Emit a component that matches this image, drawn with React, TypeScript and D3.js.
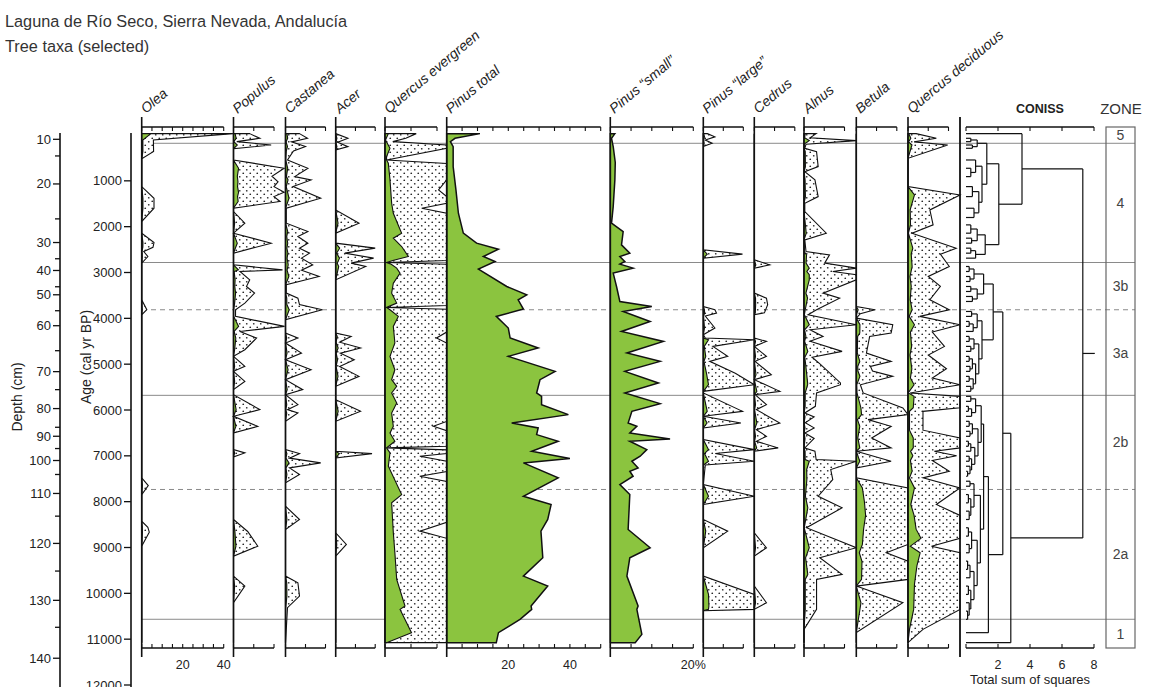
import React from 'react';
import * as d3 from 'd3';

type Pt = [number, number];

// ---------- data (age cal yr BP, percentage) ----------
const ageTicks = [1000, 2000, 3000, 4000, 5000, 6000, 7000, 8000, 9000, 10000, 11000, 12000];
const depthTickValues = [10, 15, 20, 25, 30, 35, 40, 45, 50, 55, 60, 65, 70, 75, 80, 85, 90, 95, 100, 105, 110, 115, 120, 125, 130, 135, 140];
const depthTickAges = [94, 457, 1068, 1830, 2346, 2700, 2956, 3311, 3486, 3834, 4161, 4706, 5163, 5556, 5969, 6377, 6573, 6841, 7102, 7407, 7821, 8316, 8911, 9514, 10153, 10741, 11416];

const zoneSolidAges = [181, 2782, 5680, 10566];
const zoneDashedAges = [3813, 7734];
const zoneNames = ['5', '4', '3b', '3a', '2b', '2a', '1'];

const olea: Pt[] = [[-30, 4.45], [109, 0.57], [360, 0.58], [520, 0], [1126, 0], [1380, 0.6], [1598, 0.6], [1889, 0], [2142, 0], [2346, 0.6], [2450, 0.55], [2543, 0.1], [2651, 0.3], [2796, 0], [3595, 0], [3813, 0.25], [3922, 0], [7481, 0], [7648, 0.32], [7845, 0], [8426, 0], [8560, 0.3], [8665, 0.37], [8971, 0], [11076, 0]];

const populus: Pt[] = [[-30, 0.4], [72, 0.65], [145, 0.08], [218, 0.93], [300, 0], [545, 0], [726, 1.25], [900, 0.95], [1020, 1.1], [1126, 1.0], [1250, 1.25], [1344, 1.0], [1450, 1.15], [1598, 0], [1671, 0], [1924, 0.28], [2142, 0], [2360, 0.93], [2578, 0], [2833, 0], [2942, 1.21], [2978, 0.16], [3160, 0.4], [3305, 0.32], [3450, 0.52], [3668, 0.28], [3813, 0.05], [3958, 0.05], [4176, 1.26], [4286, 0.16], [4430, 0.57], [4685, 0.28], [4830, 0], [5048, 0.28], [5157, 0], [5375, 0.28], [5556, 0], [5665, 0], [5992, 0.65], [6138, 0], [6356, 0.6], [6500, 0], [6864, 0], [6936, 0.28], [7023, 0], [8389, 0], [8650, 0.35], [8971, 0.6], [9189, 0], [9624, 0], [9842, 0.28], [10205, 0], [11076, 0]];

const castanea: Pt[] = [[-30, 0.35], [72, 0.55], [150, 0.15], [250, 0.5], [350, 0.2], [545, 0.05], [726, 0.56], [908, 0.23], [980, 0.64], [1126, 0.19], [1380, 0.88], [1598, 0.02], [1924, 0.02], [2106, 0.56], [2215, 0.31], [2360, 0.56], [2469, 0.35], [2578, 0.6], [2687, 0.4], [2833, 0.68], [2950, 0.4], [3087, 0.84], [3268, 0.02], [3450, 0.02], [3559, 0.31], [3700, 0.35], [3813, 0.92], [4031, 0], [4322, 0], [4430, 0.31], [4539, 0], [4757, 0.4], [4903, 0], [5121, 0.64], [5339, 0], [5556, 0.43], [5665, 0], [5883, 0.31], [5992, 0.05], [6065, 0.31], [6247, 0], [6864, 0], [6951, 0.35], [7050, 0.1], [7154, 0.88], [7263, 0.1], [7409, 0.35], [7590, 0], [8099, 0], [8389, 0.35], [8607, 0], [9624, 0], [9769, 0.31], [10060, 0.35], [10314, 0.05], [11076, 0]];

const acer: Pt[] = [[-30, 0], [72, 0.31], [160, 0.05], [254, 0.31], [327, 0], [1634, 0], [1924, 0.59], [2142, 0], [2360, 0], [2469, 1.0], [2578, 0.23], [2687, 0.96], [2796, 0.39], [2869, 0.76], [3160, 0], [4322, 0], [4394, 0.39], [4520, 0.1], [4648, 0.63], [4760, 0.12], [4903, 0.47], [5050, 0.1], [5266, 0.59], [5484, 0], [5774, 0], [6029, 0.63], [6247, 0], [6900, 0], [6951, 0.92], [7045, 0], [8680, 0], [8934, 0.27], [9189, 0], [11076, 0]];

const quercusEvergreen: Pt[] = [[-30, 0.64], [109, 0.1], [290, 0.96], [472, 0.3], [545, 0.3], [617, 0.64], [980, 0.96], [1489, 1.28], [1707, 1.6], [2142, 3.2], [2251, 1.6], [2433, 3.2], [2651, 4.5], [2740, 1.5], [2782, 0.3], [2820, 1.2], [2905, 2.25], [3014, 2.9], [3232, 1.6], [3450, 1.28], [3668, 2.25], [3763, 0.3], [3813, 0.96], [3958, 2.56], [4176, 1.6], [4539, 1.9], [4830, 0.96], [5121, 1.9], [5339, 1.28], [5484, 2.25], [5628, 1.28], [5846, 2.25], [6065, 1.28], [6356, 1.6], [6500, 0.96], [6682, 1.9], [6827, 0.3], [6936, 0.96], [7227, 0.64], [7845, 3.2], [8026, 1.28], [8680, 1.6], [9115, 1.9], [9696, 2.25], [10278, 3.85], [10350, 2.9], [10858, 5.1], [11076, 0.3]];
const quercusEvergreenExaggerated: Pt[] = [[-30, 6], [72, 4], [145, 1.5], [218, 14], [290, 14], [545, 0.3], [620, 14], [980, 14], [1198, 10.3], [1344, 14], [1489, 14], [1598, 7.06], [1707, 14], [2740, 14], [2782, 0.3], [2820, 14], [3720, 14], [3763, 0.3], [3800, 14], [4300, 14], [4430, 9.9], [4540, 14], [6250, 14], [6356, 9.3], [6450, 14], [6790, 14], [6827, 0.3], [6870, 14], [6950, 14], [7009, 6.7], [7118, 14], [7340, 14], [7445, 6.7], [7560, 14], [8450, 14], [8643, 6.7], [8800, 14], [11076, 14]];

const pinusTotal: Pt[] = [[-30, 10.8], [72, 2.7], [145, 1.2], [254, 2.1], [690, 2.1], [1198, 3.0], [1707, 3.8], [2142, 5.4], [2360, 9.7], [2491, 16.8], [2651, 11.9], [2760, 15.7], [2927, 10.3], [3305, 19.5], [3486, 26.0], [3595, 23.2], [3798, 24.9], [3958, 16.1], [4211, 20.0], [4430, 20.6], [4648, 29.7], [4830, 20.0], [5157, 35.2], [5339, 30.3], [5628, 29.2], [5702, 30.8], [5883, 30.8], [6101, 39.5], [6283, 21.1], [6392, 29.7], [6537, 29.2], [6682, 36.2], [6900, 27.6], [7060, 40.0], [7154, 24.9], [7481, 36.2], [7881, 24.9], [8062, 33.9], [8389, 32.8], [8643, 30.6], [9224, 31.2], [9624, 24.9], [9842, 32.8], [10278, 27.4], [10350, 27.6], [10568, 23.8], [10858, 16.8], [11076, 16.1]];

const pinusSmall: Pt[] = [[-30, 1.1], [72, 0.3], [254, 0.7], [600, 1.2], [980, 1.1], [1562, 0.7], [1924, 0.3], [2106, 3.1], [2397, 2.7], [2578, 4.7], [2651, 2.3], [2760, 3.5], [2818, 2.3], [2905, 5.5], [3014, 0.7], [3305, 1.5], [3632, 2.3], [3741, 10.0], [3850, 3.1], [4068, 9.6], [4286, 2.7], [4504, 12.8], [4757, 4.0], [4939, 12.0], [5157, 3.5], [5410, 11.6], [5628, 3.5], [5861, 12.0], [6029, 5.2], [6283, 4.3], [6356, 6.4], [6500, 4.7], [6631, 14.4], [6682, 4.7], [6864, 8.8], [7009, 7.2], [7118, 5.2], [7263, 6.7], [7336, 4.7], [7445, 5.5], [7627, 2.3], [7845, 4.7], [8607, 4.3], [9006, 9.6], [9224, 4.7], [9624, 4.0], [10278, 6.7], [10350, 6.4], [10895, 7.6], [11076, 6.0]];

const pinusLarge: Pt[] = [[-30, 0.1], [40, 0.29], [110, 0.05], [180, 0.22], [250, 0], [2506, 0], [2600, 0.98], [2687, 0], [3741, 0], [3813, 0.29], [3886, 0.33], [3950, 0.05], [4211, 0.29], [4358, 0], [4430, 0.05], [4467, 1.3], [4612, 0.24], [4830, 0.61], [4939, 0.16], [5200, 0.8], [5448, 1.3], [5593, 0], [5628, 0], [6029, 0.98], [6138, 0], [6283, 0.94], [6392, 0], [6646, 0], [6864, 1.3], [6950, 0.3], [7118, 1.3], [7200, 0.05], [7627, 0], [7881, 1.3], [8062, 0], [8389, 0], [8643, 0.61], [9006, 0], [9624, 0], [10024, 1.3], [10278, 1.4], [10350, 1.3], [10380, 0], [11076, 0]];

const cedrus: Pt[] = [[-30, 0], [2724, 0], [2833, 0.38], [2905, 0], [3450, 0], [3560, 0.3], [3700, 0.33], [3880, 0.25], [3922, 0], [4430, 0], [4504, 0.3], [4612, 0], [4830, 0.3], [4939, 0.02], [5230, 0.42], [5339, 0], [5593, 0.63], [5665, 0.02], [5883, 0.3], [5992, 0.05], [6283, 0.63], [6428, 0.05], [6574, 0.3], [6682, 0.05], [6827, 0.59], [6900, 0], [8680, 0], [9006, 0.3], [9189, 0], [9842, 0], [10205, 0.3], [10350, 0], [11076, 0]];

const alnus: Pt[] = [[-30, 0.3], [60, 0.15], [123, 1.3], [200, 0.05], [290, 0.02], [363, 0.31], [690, 0.35], [799, 0.02], [980, 0.27], [1344, 0.35], [1489, 0.02], [1671, 0.02], [2142, 0.55], [2288, 0.02], [2543, 0.05], [2615, 0.63], [2796, 0.51], [2905, 1.3], [2978, 0.71], [3050, 1.3], [3160, 1.3], [3450, 0.47], [3559, 0.88], [3813, 0.31], [3922, 0.1], [4140, 1.3], [4250, 0.15], [4394, 0.47], [4500, 0.15], [4721, 0.94], [4850, 0.2], [5000, 0.4], [5410, 0.9], [5448, 0.9], [5628, 0.31], [5920, 0.28], [6065, 0.02], [6150, 0.25], [6280, 0.03], [6390, 0.25], [6500, 0.02], [6620, 0.25], [6827, 0.02], [6900, 0.27], [7082, 0.3], [7118, 1.3], [7300, 0.66], [7518, 0.71], [7881, 0.35], [8135, 0.94], [8570, 0.06], [9006, 1.3], [9224, 0.39], [9587, 0.94], [9696, 0.31], [10350, 0.31], [10786, 0], [11076, 0]];

const betula: Pt[] = [[-30, 0], [3741, 0], [3813, 0.46], [3900, 0.1], [3995, 0], [4140, 0.9], [4322, 0.86], [4394, 0.33], [4757, 0.25], [4939, 0.86], [5050, 0.35], [5150, 0.4], [5266, 0.9], [5450, 0.1], [5628, 0.17], [5956, 1.15], [6101, 1.3], [6210, 0.29], [6356, 0.86], [6610, 0.38], [6827, 0.86], [6900, 0], [7118, 0.86], [7263, 0], [7481, 0], [7699, 1.5], [8000, 2.0], [8300, 2.3], [8600, 1.8], [8934, 1.5], [9115, 0.74], [9300, 1.4], [9696, 1.3], [9842, 0], [10205, 1.15], [10858, 0], [11076, 0]];

const quercusDeciduous: Pt[] = [[-30, 0.2], [72, 0.7], [150, 0.15], [218, 0.98], [508, 0], [1126, 0], [1307, 1.6], [1634, 0.54], [1961, 0.62], [2142, 0.1], [2469, 1.19], [2600, 0.8], [2869, 1.02], [3087, 0.5], [3300, 0.8], [3595, 0.54], [3813, 1.02], [3958, 0.29], [4140, 1.6], [4300, 0.6], [4612, 0.9], [4800, 0.5], [5100, 0.95], [5300, 0.6], [5450, 1.5], [5628, 0.05], [5702, 1.5], [5950, 1.3], [6029, 0.37], [6440, 0.37], [6610, 1.3], [6827, 1.3], [6900, 0.65], [7000, 1.2], [7100, 0.6], [7336, 1.02], [7481, 0.37], [7700, 1.6], [8062, 0.7], [8300, 1.5], [8600, 2.0], [8800, 3.2], [8971, 0.58], [9115, 3.0], [9400, 2.2], [9800, 1.6], [10350, 1.4], [10786, 0.37], [11076, 0]];

// CONISS dendrogram (leaves = sample ages, h = total sum of squares)
type DNode = number | { h: number; c: DNode[] };
const conissTree: DNode = {
  h: 7.3, c: [
    { h: 3.5, c: [
      -30,
      { h: 2.05, c: [
        { h: 1.3, c: [
          { h: 0.7, c: [{ h: 0.3, c: [72, 145] }, { h: 0.4, c: [218, 290] }] },
          { h: 1.0, c: [
            { h: 0.6, c: [545, { h: 0.3, c: [726, 908] }] },
            { h: 0.8, c: [{ h: 0.4, c: [1126, 1344] }, { h: 0.5, c: [1598, 1800] }] },
          ] },
        ] },
        { h: 1.2, c: [
          { h: 0.7, c: [{ h: 0.3, c: [1961, 2142] }, { h: 0.35, c: [2251, 2360] }] },
          { h: 0.6, c: [{ h: 0.3, c: [2469, 2578] }, 2687] },
        ] },
      ] },
    ] },
    { h: 2.8, c: [
      { h: 2.3, c: [
        { h: 1.7, c: [
          { h: 1.1, c: [
            { h: 0.5, c: [{ h: 0.2, c: [2869, 2978] }, { h: 0.25, c: [3087, 3196] }] },
            { h: 0.7, c: [{ h: 0.3, c: [3305, 3414] }, { h: 0.4, c: [3523, 3632] }] },
          ] },
          { h: 1.0, c: [
            { h: 0.7, c: [{ h: 0.35, c: [3850, 3958] }, { h: 0.45, c: [{ h: 0.2, c: [4068, 4176] }, 4286] }] },
            { h: 0.8, c: [
              { h: 0.5, c: [{ h: 0.2, c: [4394, 4504] }, { h: 0.3, c: [4612, 4721] }] },
              { h: 0.6, c: [
                { h: 0.4, c: [{ h: 0.2, c: [4830, 4939] }, { h: 0.25, c: [5048, 5157] }] },
                { h: 0.45, c: [{ h: 0.2, c: [5266, 5375] }, { h: 0.3, c: [5484, 5593] }] },
              ] },
            ] },
          ] },
        ] },
        { h: 1.4, c: [
          { h: 1.1, c: [
            { h: 0.95, c: [
              { h: 0.6, c: [{ h: 0.3, c: [5702, 5811] }, { h: 0.35, c: [{ h: 0.15, c: [5920, 6029] }, 6138] }] },
              { h: 0.75, c: [
                { h: 0.4, c: [{ h: 0.2, c: [6247, 6356] }, { h: 0.25, c: [6465, 6574] }] },
                { h: 0.55, c: [
                  { h: 0.3, c: [{ h: 0.15, c: [6682, 6791] }, 6900] },
                  { h: 0.35, c: [{ h: 0.2, c: [7009, 7118] }, { h: 0.25, c: [7227, { h: 0.1, c: [7336, 7445] }] }] },
                ] },
              ] },
            ] },
            { h: 0.9, c: [
              { h: 0.5, c: [{ h: 0.25, c: [7554, 7663] }, { h: 0.3, c: [{ h: 0.15, c: [7845, 8026] }, { h: 0.2, c: [8207, 8389] }] }] },
              { h: 0.7, c: [
                { h: 0.35, c: [{ h: 0.15, c: [8570, 8752] }, { h: 0.2, c: [8934, 9115] }] },
                { h: 0.5, c: [
                  { h: 0.25, c: [{ h: 0.1, c: [9297, 9478] }, 9660] },
                  { h: 0.3, c: [{ h: 0.15, c: [9842, 10024] }, { h: 0.2, c: [10205, { h: 0.1, c: [10387, 10568] }] }] },
                ] },
              ] },
            ] },
          ] },
          10858,
        ] },
      ] },
      11076,
    ] },
  ],
};

// ---------- layout ----------
const FONT = '"Liberation Sans", Arial, sans-serif';
const GREEN = '#8bc43f';
const TOP_BAR = 127;
const BOT_BAR = 648;
const AXIS_TOP = 117;
const AXIS_BOT = 657;
const y = d3.scaleLinear().domain([0, 12000]).range([135, 685]);

interface Panel {
  name: string;
  data: Pt[];
  exagData?: Pt[];
  left: number;
  right: number;
  ppp: number; // px per percent
  exag: number; // 0 = none
  tickStep: number;
  maxTick: number;
  labels?: { v: number; t: string }[];
}

const panels: Panel[] = [
  { name: 'Olea', data: olea, left: 141.7, right: 233.5, ppp: 2.05, exag: 10, tickStep: 5, maxTick: 40, labels: [{ v: 20, t: '20' }, { v: 40, t: '40' }] },
  { name: 'Populus', data: populus, left: 233.5, right: 285.5, ppp: 4.05, exag: 10, tickStep: 5, maxTick: 10 },
  { name: 'Castanea', data: castanea, left: 285.5, right: 335.7, ppp: 4.0, exag: 10, tickStep: 5, maxTick: 10 },
  { name: 'Acer', data: acer, left: 335.7, right: 385, ppp: 3.95, exag: 10, tickStep: 5, maxTick: 10 },
  { name: 'Quercus evergreen', data: quercusEvergreen, exagData: quercusEvergreenExaggerated, left: 385, right: 446.7, ppp: 5.2, exag: 1, tickStep: 5, maxTick: 10 },
  { name: 'Pinus total', data: pinusTotal, left: 446.7, right: 610.3, ppp: 3.08, exag: 0, tickStep: 5, maxTick: 50, labels: [{ v: 20, t: '20' }, { v: 40, t: '40' }] },
  { name: 'Pinus “small”', data: pinusSmall, left: 610.3, right: 703.3, ppp: 4.15, exag: 0, tickStep: 5, maxTick: 20, labels: [{ v: 20, t: '20%' }] },
  { name: 'Pinus “large”', data: pinusLarge, left: 703.3, right: 754.3, ppp: 4.0, exag: 10, tickStep: 5, maxTick: 10 },
  { name: 'Cedrus', data: cedrus, left: 754.3, right: 804, ppp: 4.05, exag: 10, tickStep: 5, maxTick: 10 },
  { name: 'Alnus', data: alnus, left: 804, right: 856.3, ppp: 4.05, exag: 10, tickStep: 5, maxTick: 10 },
  { name: 'Betula', data: betula, left: 856.3, right: 908, ppp: 4.05, exag: 10, tickStep: 5, maxTick: 10 },
  { name: 'Quercus deciduous', data: quercusDeciduous, left: 908, right: 960, ppp: 4.05, exag: 10, tickStep: 5, maxTick: 10 },
];

const CON_LEFT = 966;
const conX = d3.scaleLinear().domain([0, 8]).range([CON_LEFT, 1094]);
const conTicks = [0, 2, 4, 6, 8];
const ZONE_L = 1106;
const ZONE_R = 1135;

function PanelView({ p }: { p: Panel }) {
  const width = p.right - p.left;
  const clipW = (v: number) => Math.min(v, width);
  const exArea = d3.area<Pt>()
    .y((d) => y(d[0]))
    .x0(p.left)
    .x1((d) => p.left + clipW(d[1] * p.ppp * (p.exagData ? 1 : p.exag)));
  const greenArea = d3.area<Pt>()
    .y((d) => y(d[0]))
    .x0(p.left)
    .x1((d) => p.left + clipW(d[1] * p.ppp));
  const ticks = d3.range(0, p.maxTick + 0.001, p.tickStep);
  const sx = (v: number) => p.left + v * p.ppp;
  const exagSource = p.exagData ?? (p.exag > 0 ? p.data : null);
  return (
    <g>
      {exagSource && (
        <path d={exArea(exagSource) ?? ''} fill="url(#dots)" stroke="#111" strokeWidth={1.1} strokeLinejoin="miter" />
      )}
      <path d={greenArea(p.data) ?? ''} fill={GREEN} stroke="#111" strokeWidth={p.exag === 0 ? 1.5 : 1.1} />
      <line x1={p.left} x2={p.left} y1={AXIS_TOP} y2={AXIS_BOT} stroke="#111" strokeWidth={1.6} />
      {[TOP_BAR, BOT_BAR].map((by, i) => (
        <g key={i}>
          <line x1={p.left} x2={sx(p.maxTick)} y1={by} y2={by} stroke="#111" strokeWidth={1.3} />
          {ticks.map((t) => (
            <line key={t} x1={sx(t)} x2={sx(t)} y1={by} y2={i === 0 ? by + 4 : by - 4} stroke="#111" strokeWidth={1.1} />
          ))}
        </g>
      ))}
      {p.labels?.map((l) => (
        <text key={l.t} x={sx(l.v)} y={669} textAnchor="middle" fontSize={12.5} fontFamily={FONT} fill="#222">{l.t}</text>
      ))}
      <text
        transform={`translate(${p.left + 4},${114}) rotate(-40)`}
        fontSize={14}
        fontStyle="italic"
        fontFamily={FONT}
        fill="#222"
      >{p.name}</text>
    </g>
  );
}

interface Lay { y: number; h: number }
function buildDendro(node: DNode, segs: { x1: number; y1: number; x2: number; y2: number }[]): Lay {
  if (typeof node === 'number') return { y: y(node), h: 0 };
  const kids = node.c.map((c) => buildDendro(c, segs));
  const ys = kids.map((k) => k.y);
  const x = conX(node.h);
  segs.push({ x1: x, x2: x, y1: Math.min(...ys), y2: Math.max(...ys) });
  kids.forEach((k) => segs.push({ x1: conX(k.h), x2: x, y1: k.y, y2: k.y }));
  return { y: (ys[0] + ys[ys.length - 1]) / 2, h: node.h };
}

export default function App() {
  const segs: { x1: number; y1: number; x2: number; y2: number }[] = [];
  const root = buildDendro(conissTree, segs);
  segs.push({ x1: conX(root.h), x2: conX(root.h) + 12, y1: root.y, y2: root.y });

  const zoneBounds = [TOP_BAR, ...[...zoneSolidAges, ...zoneDashedAges].sort((a, b) => a - b).map((a) => y(a)), BOT_BAR];

  return (
    <svg width={1151} height={687} style={{ position: 'absolute', left: 0, top: 0, background: '#fff' }} fontFamily={FONT}>
      <defs>
        <pattern id="dots" width={7} height={7} patternUnits="userSpaceOnUse">
          <rect width={7} height={7} fill="#fff" />
          <circle cx={1.75} cy={1.75} r={0.85} fill="#222" />
          <circle cx={5.25} cy={5.25} r={0.85} fill="#222" />
        </pattern>
      </defs>

      <text x={5} y={27} fontSize={16.3} fill="#333">Laguna de Río Seco, Sierra Nevada, Andalucía</text>
      <text x={5} y={52} fontSize={16.3} fill="#333">Tree taxa (selected)</text>

      <line x1={60} x2={60} y1={133} y2={687} stroke="#111" strokeWidth={1.6} />
      {depthTickValues.map((d, i) => {
        const major = d % 10 === 0;
        const yy = y(depthTickAges[i]);
        return (
          <g key={d}>
            <line x1={major ? 53 : 55} x2={60} y1={yy} y2={yy} stroke="#111" strokeWidth={1.3} />
            {major && <text x={51} y={yy + 4.5} textAnchor="end" fontSize={13} fill="#222">{d}</text>}
          </g>
        );
      })}
      <text transform="translate(22,397) rotate(-90)" textAnchor="middle" fontSize={14} fill="#222">Depth (cm)</text>

      <line x1={131} x2={131} y1={133} y2={687} stroke="#111" strokeWidth={1.6} />
      {ageTicks.map((a) => (
        <g key={a}>
          <line x1={124} x2={131} y1={y(a)} y2={y(a)} stroke="#111" strokeWidth={1.3} />
          <text x={122} y={y(a) + 4.5} textAnchor="end" fontSize={13} fill="#222">{a}</text>
        </g>
      ))}
      <text transform="translate(91,357) rotate(-90)" textAnchor="middle" fontSize={14} fill="#222">Age (cal yr BP)</text>

      {zoneSolidAges.map((a) => (
        <line key={a} x1={142} x2={ZONE_R} y1={y(a)} y2={y(a)} stroke="#8a8a8a" strokeWidth={1} />
      ))}
      {zoneDashedAges.map((a) => (
        <line key={a} x1={142} x2={ZONE_R} y1={y(a)} y2={y(a)} stroke="#8a8a8a" strokeWidth={1} strokeDasharray="5,4" />
      ))}

      {panels.map((p) => <PanelView key={p.name} p={p} />)}

      <line x1={960} x2={960} y1={AXIS_TOP} y2={AXIS_BOT} stroke="#111" strokeWidth={1.8} />
      {segs.map((s, i) => (
        <line key={i} x1={s.x1} x2={s.x2} y1={s.y1} y2={s.y2} stroke="#111" strokeWidth={1.2} />
      ))}
      {[TOP_BAR, BOT_BAR].map((by, i) => (
        <g key={i}>
          <line x1={conX(0)} x2={conX(8)} y1={by} y2={by} stroke="#111" strokeWidth={1.3} />
          {conTicks.map((t) => (
            <line key={t} x1={conX(t)} x2={conX(t)} y1={by} y2={i === 0 ? by + 4 : by - 4} stroke="#111" strokeWidth={1.1} />
          ))}
        </g>
      ))}
      {conTicks.filter((t) => t > 0).map((t) => (
        <text key={t} x={conX(t)} y={669} textAnchor="middle" fontSize={12.5} fill="#222">{t}</text>
      ))}
      <text x={1030} y={684} textAnchor="middle" fontSize={13} fill="#222">Total sum of squares</text>
      <text x={1040} y={113} textAnchor="middle" fontSize={12.5} fontWeight="bold" fill="#222">CONISS</text>

      <text x={1121} y={114} textAnchor="middle" fontSize={15} fill="#333">ZONE</text>
      <rect x={ZONE_L} y={TOP_BAR} width={ZONE_R - ZONE_L} height={BOT_BAR - TOP_BAR} fill="none" stroke="#666" strokeWidth={1.2} />
      {zoneNames.map((z, i) => (
        <text key={z} x={(ZONE_L + ZONE_R) / 2} y={(zoneBounds[i] + zoneBounds[i + 1]) / 2 + 5} textAnchor="middle" fontSize={14} fill="#444">{z}</text>
      ))}
    </svg>
  );
}
